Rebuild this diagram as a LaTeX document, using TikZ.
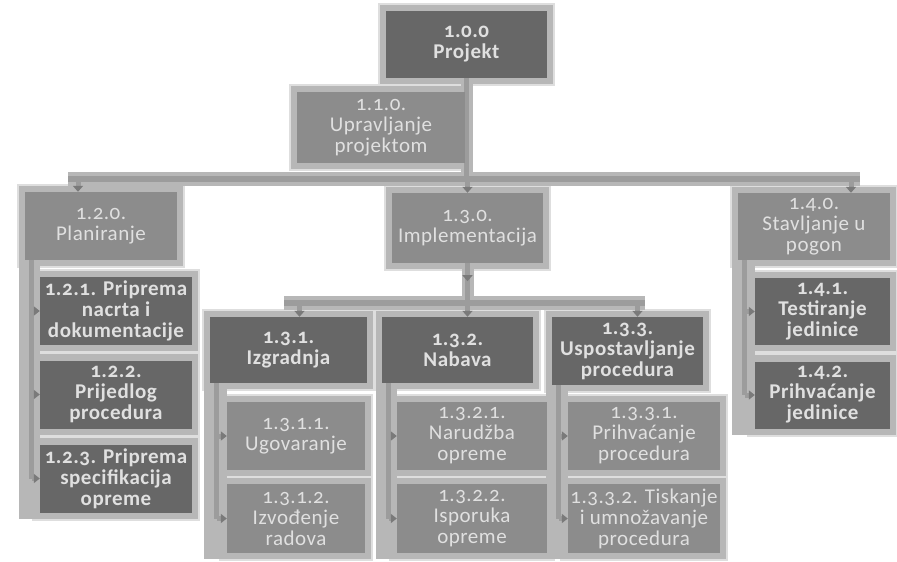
\documentclass[tikz,border=0pt]{standalone}
\usepackage{fontspec}
\setmainfont{Carlito}[Numbers=OldStyle,LetterSpace=2.5]
\usetikzlibrary{arrows.meta,calc}
\definecolor{dk}{HTML}{676767}
\definecolor{md}{HTML}{8C8C8C}
\definecolor{hl}{HTML}{B7B7B7}
\definecolor{hlo}{HTML}{DEDEDE}
\definecolor{cn}{HTML}{9C9C9C}
\definecolor{tp}{HTML}{7A7A7A}
\definecolor{tx}{HTML}{E0E0E0}
\pgfdeclarelayer{bg}\pgfdeclarelayer{halo}\pgfdeclarelayer{conn}
\pgfsetlayers{bg,halo,conn,main}
\begin{document}
\begin{tikzpicture}[x=1pt,y=-1pt,
  box/.style={inner sep=0pt, align=center, text=tx, font=\fontsize{21}{21}\selectfont, minimum width=152pt, minimum height=68pt},
  dkbox/.style={box, fill=dk, font=\fontsize{21}{21}\selectfont\bfseries},
  mdbox/.style={box, fill=md},
  vbar/.style={draw=cn, line width=5pt},
  hbar/.style={draw=cn, line width=6pt},
  hbarhalo/.style={draw=hl, line width=14pt},
  rtip/.style={draw=cn, line width=5pt, -{Triangle[length=6pt,width=9pt,color=tp]}},
  dtip/.style={draw=cn, line width=5pt, -{Triangle[length=6pt,width=10pt,color=tp]}},
  halofill/.style={fill=hl},
  halooutfill/.style={fill=hlo}
]
\useasboundingbox (0,0) rectangle (897,562);
\begin{pgfonlayer}{bg}
  \fill[white] (0,0) rectangle (897,562);
\end{pgfonlayer}

% ---- boxes ----
\node[dkbox, minimum width=161pt, minimum height=67pt] (p100) at (466.5,44.5) {1.0.0\\Projekt};
\node[mdbox, minimum width=168pt, minimum height=71pt] (p110) at (381,127.5) {1.1.0.\\Upravljanje\\projektom};
\node[mdbox] (p120) at (101,226) {1.2.0.\\Planiranje};
\node[mdbox, minimum width=151pt, minimum height=70pt] (p130) at (467.5,228) {1.3.0.\\Implementacija};
\node[mdbox, minimum height=67pt] (p140) at (814,226.5) {1.4.0.\\Stavljanje u\\pogon};

\node[dkbox] (p121) at (116,311) {1.2.1. Priprema\\nacrta i\\dokumentacije};
\node[dkbox] (p122) at (116,394.5) {1.2.2.\\Prijedlog\\procedura};
\node[dkbox] (p123) at (116,478.5) {1.2.3. Priprema\\specifikacija\\opreme};

\node[dkbox, minimum width=157pt, minimum height=66pt] (p131) at (288.5,350) {1.3.1.\\Izgradnja};
\node[dkbox, minimum width=151pt, minimum height=66pt] (p132) at (457.5,350) {1.3.2.\\Nabava};
\node[dkbox, minimum width=151pt] (p133) at (627.5,351) {1.3.3.\\Uspostavljanje\\procedura};

\node[mdbox, minimum width=138pt] (p1311) at (296,436) {1.3.1.1.\\Ugovaranje};
\node[mdbox, minimum width=138pt, minimum height=69pt] (p1312) at (296,518.5) {1.3.1.2.\\Izvođenje\\radova};
\node[mdbox, minimum width=150pt] (p1321) at (472,436) {1.3.2.1.\\Narudžba\\opreme};
\node[mdbox, minimum width=150pt, minimum height=69pt] (p1322) at (472,518.5) {1.3.2.2.\\Isporuka\\opreme};
\node[mdbox] (p1331) at (644,436) {1.3.3.1.\\Prihvaćanje\\procedura};
\node[mdbox, minimum height=69pt] (p1332) at (644,518.5) {1.3.3.2. Tiskanje\\i umnožavanje\\procedura};

\node[dkbox, minimum width=135pt, minimum height=67pt] (p141) at (822.5,311.5) {1.4.1.\\Testiranje\\jedinice};
\node[dkbox, minimum width=135pt, minimum height=67pt] (p142) at (822.5,395) {1.4.2.\\Prihvaćanje\\jedinice};

% ---- bar coordinates ----
\coordinate (bL) at (68,179);
\coordinate (bR) at (860,179);
\coordinate (tL) at (78,179);
\coordinate (tR) at (851,179);
\coordinate (cL) at (284,303);
\coordinate (cR) at (645,303);

% ---- halos ----
\begin{pgfonlayer}{halo}
  \foreach \n in {p100,p110,p120,p130,p140,p121,p122,p123,p131,p132,p133,p1311,p1312,p1321,p1322,p1331,p1332,p141,p142}{
    \fill[halooutfill] ([xshift=-8pt,yshift=8pt]\n.north west) rectangle ([xshift=8pt,yshift=-8pt]\n.south east);
  }
  \foreach \n in {p100,p110,p120,p130,p140,p121,p122,p123,p131,p132,p133,p1311,p1312,p1321,p1322,p1331,p1332,p141,p142}{
    \fill[halofill] ([xshift=-6pt,yshift=6pt]\n.north west) rectangle ([xshift=6pt,yshift=-6pt]\n.south east);
  }
  % column strips
  \fill[halofill] ([xshift=-6pt]p120.south west) rectangle ([yshift=-6pt]p123.south west);
  \fill[halofill] ([xshift=-6pt]p131.south west) rectangle ([yshift=-6pt]p1312.south west);
  \fill[halofill] ([xshift=-6pt]p132.south west) rectangle ([yshift=-6pt]p1322.south west);
  \fill[halofill] ([xshift=-6pt]p133.south west) rectangle ([yshift=-6pt]p1332.south west);
  \fill[halofill] ([xshift=-6pt]p140.south west) rectangle ([yshift=-6pt]p142.south west);
  % bar halos
  \draw[hbarhalo] (bL) -- (bR);
  \draw[hbarhalo] (cL) -- (cR);
  \draw[draw=hl, line width=12pt] (p100.south) -- (p100.south |- bL);
  \draw[draw=hl, line width=12pt] (p130.south) -- (p130.south |- cL);
\end{pgfonlayer}

% ---- connectors ----
\begin{pgfonlayer}{conn}
  \draw[vbar] (p100.south) -- (p100.south |- bL);
  \draw[hbar] (bL) -- (bR);
  \draw[dtip] (tL) -- (tL |- p120.north);
  \draw[dtip] (p130.north |- bL) -- (p130.north);
  \draw[dtip] (tR) -- (tR |- p140.north);

  \draw[vbar] (p130.south) -- (p130.south |- cL);
  \draw[dtip] (p130.south) -- ([yshift=-18pt]p130.south);
  \draw[hbar] (cL) -- (cR);
  \draw[dtip] ([xshift=11pt]p131.north |- cL) -- ([xshift=11pt]p131.north);
  \draw[dtip] ([xshift=10pt]p132.north |- cL) -- ([xshift=10pt]p132.north);
  \draw[dtip] ([xshift=10pt]p133.north |- cL) -- ([xshift=10pt]p133.north);

  % column 1.2
  \draw[vbar] ([xshift=7pt]p120.south west) -- ([xshift=7pt]p120.south west |- p123.west);
  \foreach \c in {p121,p122,p123}{
    \draw[rtip] ([xshift=7pt]p120.south west |- \c.west) -- (\c.west);
  }
  % column 1.3.1
  \draw[vbar] ([xshift=7pt]p131.south west) -- ([xshift=7pt]p131.south west |- p1312.west);
  \foreach \c in {p1311,p1312}{
    \draw[rtip] ([xshift=7pt]p131.south west |- \c.west) -- (\c.west);
  }
  % column 1.3.2
  \draw[vbar] ([xshift=7pt]p132.south west) -- ([xshift=7pt]p132.south west |- p1322.west);
  \foreach \c in {p1321,p1322}{
    \draw[rtip] ([xshift=7pt]p132.south west |- \c.west) -- (\c.west);
  }
  % column 1.3.3
  \draw[vbar] ([xshift=7pt]p133.south west) -- ([xshift=7pt]p133.south west |- p1332.west);
  \foreach \c in {p1331,p1332}{
    \draw[rtip] ([xshift=7pt]p133.south west |- \c.west) -- (\c.west);
  }
  % column 1.4
  \draw[vbar] ([xshift=7pt]p140.south west) -- ([xshift=7pt]p140.south west |- p142.west);
  \foreach \c in {p141,p142}{
    \draw[rtip] ([xshift=7pt]p140.south west |- \c.west) -- (\c.west);
  }
\end{pgfonlayer}
\end{tikzpicture}
\end{document}
